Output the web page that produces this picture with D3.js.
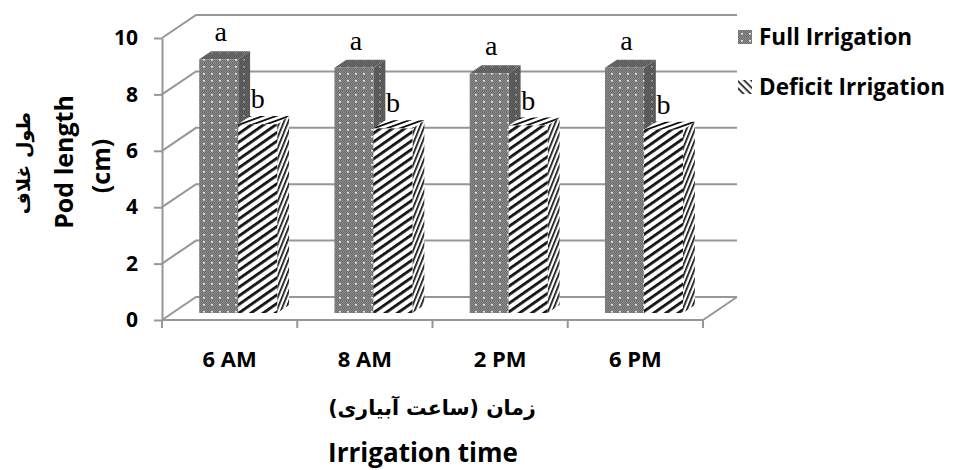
<!DOCTYPE html>
<html>
<head>
<meta charset="utf-8">
<script src="https://cdn.jsdelivr.net/npm/d3@7"></script>
<style>
  body { margin: 0; background: #fff; }
  text { font-family: "Open Sans", Lato, sans-serif; font-weight: bold; fill: #000; }
  .fa { font-family: "DejaVu Sans", sans-serif; }
  .letter { font-family: "Liberation Serif", serif; font-weight: normal; }
</style>
</head>
<body>
<div id="chart"></div>
<script>
const categories = ['6 AM', '8 AM', '2 PM', '6 PM'];
const seriesNames = ['Full Irrigation', 'Deficit Irrigation'];
const fullIrrigation = [9.0, 8.7, 8.5, 8.7];
const deficitIrrigation = [6.7, 6.55, 6.65, 6.5];
const fullLetters = ['a', 'a', 'a', 'a'];
const deficitLetters = ['b', 'b', 'b', 'b'];
const yTicks = [0, 2, 4, 6, 8, 10];

const width = 954;
const height = 470;
const ox = 162; // front left corner of the floor
const floorW = 541;
const DX = 34; // full depth offset
const DY = 23;
const z0 = 0.3; // bar front depth
const z1 = 0.65; // bar back depth
const gridColor = '#979797';

const svg = d3.select('#chart')
    .append('svg')
    .attr('width', width)
    .attr('height', height);

// patterns
const defs = svg.append('defs');

function dots(id, bg, dark, dot) {
  const p = defs.append('pattern')
      .attr('id', id)
      .attr('patternUnits', 'userSpaceOnUse')
      .attr('width', 8)
      .attr('height', 7);
  p.append('rect').attr('width', 8).attr('height', 7).attr('fill', bg);
  for (let i = 0; i < 8; i += 2) {
    for (let j = 0; j < 7; j++) {
      p.append('rect')
          .attr('x', i + (j % 2))
          .attr('y', j)
          .attr('width', 1)
          .attr('height', 1)
          .attr('fill', dark);
    }
  }
  p.append('rect')
      .attr('x', 3).attr('y', 3)
      .attr('width', 2).attr('height', 1.6)
      .attr('fill', dot);
}
dots('dotFront', '#8c8c8c', '#6c6c6c', '#e6e6e6');
dots('dotSide', '#666', '#4f4f4f', '#9a9a9a');
dots('dotTop', '#6e6e6e', '#575757', '#7e7e7e');

function stripes(id, angle, size, lineW) {
  const p = defs.append('pattern')
      .attr('id', id)
      .attr('patternUnits', 'userSpaceOnUse')
      .attr('width', size)
      .attr('height', size)
      .attr('patternTransform', `rotate(${angle})`);
  p.append('rect').attr('width', size).attr('height', size).attr('fill', '#fff');
  p.append('rect').attr('width', size).attr('height', lineW).attr('fill', '#111');
}
stripes('stripeFront', -35, 7, 2.8);
stripes('stripeSide', -68, 4, 1.7);
stripes('stripeTop', -20, 4.5, 1.8);
stripes('stripeIcon', 45, 5, 1.6);

const fills = {
  'Full Irrigation': {front: 'url(#dotFront)', side: 'url(#dotSide)', top: 'url(#dotTop)'},
  'Deficit Irrigation': {front: 'url(#stripeFront)', side: 'url(#stripeSide)', top: 'url(#stripeTop)'},
};

// scales
const x0 = d3.scaleBand()
    .domain(categories)
    .range([0, floorW]);

const x1 = d3.scaleBand()
    .domain(seriesNames)
    .range([27, 105]);

const y = d3.scaleLinear()
    .domain([0, 10])
    .range([320, 38]);

const proj = (x, v, z) => [ox + x + z * DX, y(v) - z * DY];
const poly = (pts) => 'M' + pts.map((p) => p.join(',')).join('L') + 'Z';

// walls and gridlines
const grid = svg.append('g')
    .attr('stroke', gridColor)
    .attr('stroke-width', 2)
    .attr('fill', 'none');

yTicks.forEach((t) => {
  grid.append('path')
      .attr('d', 'M' + proj(0, t, 0) + 'L' + proj(0, t, 1) + 'L' + proj(floorW, t, 1));
});
grid.append('path')
    .attr('d', 'M' + proj(0, 0, 0) + 'L' + proj(floorW, 0, 0) + 'L' + proj(floorW, 0, 1));

// y axis
const yAxis = svg.append('g')
    .attr('transform', `translate(${ox},0)`)
    .call(d3.axisLeft(y).tickValues(yTicks).tickSize(8).tickSizeOuter(0).tickPadding(16));
yAxis.select('.domain').attr('stroke', gridColor).attr('stroke-width', 2);
yAxis.selectAll('.tick line').attr('stroke', gridColor).attr('stroke-width', 2);
yAxis.selectAll('.tick text')
    .attr('font-size', 21)
    .attr('font-family', '"Open Sans"')
    .attr('font-weight', 'bold')
    .attr('fill', '#000');

// x axis ticks on category boundaries
const bounds = categories.map((c) => x0(c)).concat([floorW]);
svg.append('g')
    .selectAll('line')
    .data(bounds)
    .join('line')
    .attr('x1', (d) => ox + d)
    .attr('x2', (d) => ox + d)
    .attr('y1', y(0))
    .attr('y2', y(0) + 8)
    .attr('stroke', gridColor)
    .attr('stroke-width', 2);

svg.append('g')
    .selectAll('text')
    .data(categories)
    .join('text')
    .attr('x', (d) => ox + x0(d) + x0.bandwidth() / 2)
    .attr('y', 367)
    .attr('text-anchor', 'middle')
    .attr('font-size', 22)
    .text((d) => d);

// bars
const series = [
  {name: 'Full Irrigation', values: fullIrrigation, letters: fullLetters},
  {name: 'Deficit Irrigation', values: deficitIrrigation, letters: deficitLetters},
];

const bars = svg.append('g');
categories.forEach((c, i) => {
  series.forEach((s) => {
    const v = s.values[i];
    const xa = x0(c) + x1(s.name);
    const xb = xa + x1.bandwidth();
    const g = bars.append('g');
    g.append('path')
        .attr('d', poly([proj(xb, 0, z0), proj(xb, 0, z1), proj(xb, v, z1), proj(xb, v, z0)]))
        .attr('fill', fills[s.name].side);
    g.append('path')
        .attr('d', poly([proj(xa, v, z0), proj(xb, v, z0), proj(xb, v, z1), proj(xa, v, z1)]))
        .attr('fill', fills[s.name].top);
    g.append('path')
        .attr('d', poly([proj(xa, 0, z0), proj(xb, 0, z0), proj(xb, v, z0), proj(xa, v, z0)]))
        .attr('fill', fills[s.name].front);
  });
});

// significance letters
const letters = svg.append('g');
categories.forEach((c, i) => {
  series.forEach((s, k) => {
    const v = s.values[i];
    const xa = x0(c) + x1(s.name);
    const cx = proj(xa + x1.bandwidth() / 2, v, z0)[0] + (k === 0 ? 2 : 0);
    const top = proj(xa, v, z1)[1];
    letters.append('text')
        .attr('class', 'letter')
        .attr('x', cx)
        .attr('y', top - (k === 0 ? 10 : 8))
        .attr('text-anchor', 'middle')
        .attr('font-size', 28)
        .text(s.letters[i]);
  });
});

// legend
const legend = svg.append('g')
    .attr('transform', 'translate(738,0)');
const legendRows = legend.selectAll('g')
    .data(seriesNames)
    .join('g')
    .attr('transform', (d, i) => `translate(0,${30 + i * 50})`);
legendRows.append('rect')
    .attr('width', 14)
    .attr('height', 14)
    .attr('fill', (d, i) => i === 0 ? 'url(#dotFront)' : 'url(#stripeIcon)');
legendRows.append('text')
    .attr('x', 21)
    .attr('y', 15)
    .attr('font-size', 22.5)
    .text((d) => d);

// axis titles
const yTitle = svg.append('g')
    .attr('font-size', 25);
yTitle.append('text')
    .attr('class', 'fa')
    .attr('transform', 'translate(30,163) rotate(-90)')
    .attr('text-anchor', 'middle')
    .attr('font-size', 19)
    .text('طول غلاف');
yTitle.append('text')
    .attr('transform', 'translate(73,162) rotate(-90)')
    .attr('text-anchor', 'middle')
    .text('Pod length');
yTitle.append('text')
    .attr('transform', 'translate(110,166) rotate(-90)')
    .attr('text-anchor', 'middle')
    .text('(cm)');

svg.append('text')
    .attr('class', 'fa')
    .attr('x', 432)
    .attr('y', 415)
    .attr('text-anchor', 'middle')
    .attr('font-size', 20.5)
    .text('زمان (ساعت آبیاری)');

svg.append('text')
    .attr('x', 423)
    .attr('y', 462)
    .attr('text-anchor', 'middle')
    .attr('font-size', 26)
    .text('Irrigation time');
</script>
</body>
</html>
